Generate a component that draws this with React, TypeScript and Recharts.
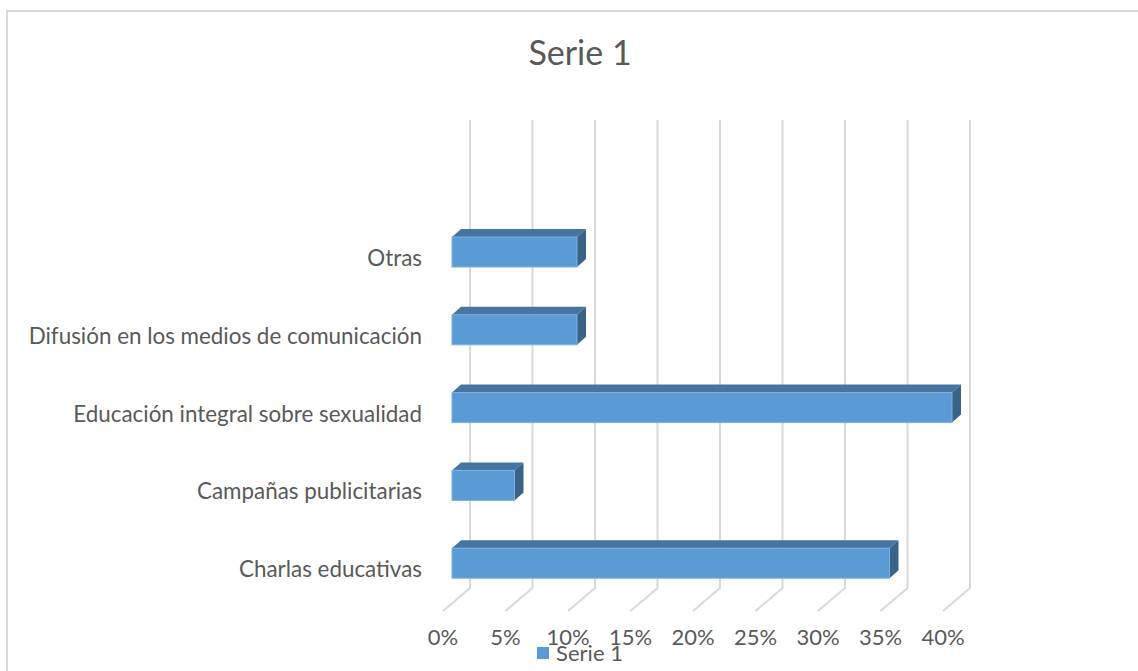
import React from 'react'
import { BarChart, Bar, XAxis, YAxis, CartesianGrid, Legend } from 'recharts'

const categories = [
  'Charlas educativas',
  'Campañas publicitarias',
  'Educación integral sobre sexualidad',
  'Difusión en los medios de comunicación',
  'Otras',
]
const values = [35, 5, 40, 10, 10]
const xTicks = [0, 5, 10, 15, 20, 25, 30, 35, 40]
const seriesName = 'Serie 1'

const data = categories.map((name, i) => ({ name, value: values[i] }))

const FONT = 'Lato, "Open Sans", sans-serif'
const TEXT = '#595959'
const GRID = '#d9d9d9'
// 3d depth of one bar (the floor is twice as deep)
const DX = 9
const DY = 8

const Bar3D = (props: any) => {
  const { x, y, width, height } = props
  if (!width) return null
  const top = `${x},${y} ${x + DX},${y - DY} ${x + width + DX},${y - DY} ${x + width},${y}`
  const side = `${x + width},${y} ${x + width + DX},${y - DY} ${x + width + DX},${y + height - DY} ${x + width},${y + height}`
  return (
    <g>
      <polygon points={top} fill="#4675a2" />
      <polygon points={side} fill="#3a6388" />
      <rect x={x} y={y} width={width} height={height} fill="#5b9bd5" stroke="#7cafe0" strokeWidth={1} />
    </g>
  )
}

const GridLine = (props: any) => {
  const { x1, y1, y2 } = props
  const bx = x1 + DX * 2
  const d = `M${bx},${y1 - 93} L${bx},${y2 - 14} L${x1 - DX},${y2 + 9}`
  return <path key={props.key} d={d} fill="none" stroke={GRID} strokeWidth={2} />
}

const XTick = (props: any) => {
  const { x, y, payload } = props
  return (
    <text x={x - DX} y={y + 43} textAnchor="middle" fill={TEXT} fontSize={22} fontFamily={FONT}>
      {payload.value}%
    </text>
  )
}

const YTick = (props: any) => {
  const { x, y, payload } = props
  return (
    <text x={x} y={y + 14} textAnchor="end" fill={TEXT} fontSize={22.4} fontFamily={FONT}>
      {payload.value}
    </text>
  )
}

const LegendContent = () => (
  <div style={{ display: 'flex', justifyContent: 'center', alignItems: 'center', fontFamily: FONT, fontSize: 22, color: TEXT }}>
    <span style={{ width: 12, height: 12, background: '#5b9bd5', marginRight: 7 }} />
    <span>{seriesName}</span>
  </div>
)

export default function App() {
  return (
    <div style={{ position: 'fixed', left: 0, top: 0, width: 1138, height: 671, background: '#fff', overflow: 'hidden' }}>
      <div
        style={{
          position: 'absolute',
          left: 6,
          top: 10,
          width: 1200,
          height: 700,
          border: `2px solid ${GRID}`,
          boxSizing: 'border-box',
        }}
      />
      <div
        style={{
          position: 'absolute',
          left: 0,
          top: 30,
          width: 1160,
          textAlign: 'center',
          fontFamily: FONT,
          fontSize: 34,
          color: TEXT,
          lineHeight: '44px',
        }}
      >
        {seriesName}
      </div>
      <div style={{ position: 'absolute', left: 0, top: 0 }}>
        <BarChart
          width={1138}
          height={671}
          data={data}
          layout="vertical"
          margin={{ top: 213, right: 186, bottom: 39, left: 12 }}
          barSize={30}
        >
          <CartesianGrid horizontal={false} vertical={GridLine} />
          <XAxis
            type="number"
            domain={[0, 40]}
            ticks={xTicks}
            height={30}
            axisLine={false}
            tickLine={false}
            tickSize={0}
            tickMargin={0}
            tick={<XTick />}
            interval={0}
          />
          <YAxis
            type="category"
            dataKey="name"
            reversed
            width={440}
            axisLine={false}
            tickLine={false}
            tickSize={0}
            tickMargin={30}
            tick={<YTick />}
            interval={0}
          />
          <Legend
            verticalAlign="middle"
            align="center"
            content={<LegendContent />}
            wrapperStyle={{ top: 639, left: 0, width: 1160 }}
          />
          <Bar dataKey="value" name={seriesName} shape={<Bar3D />} isAnimationActive={false} />
        </BarChart>
      </div>
    </div>
  )
}
